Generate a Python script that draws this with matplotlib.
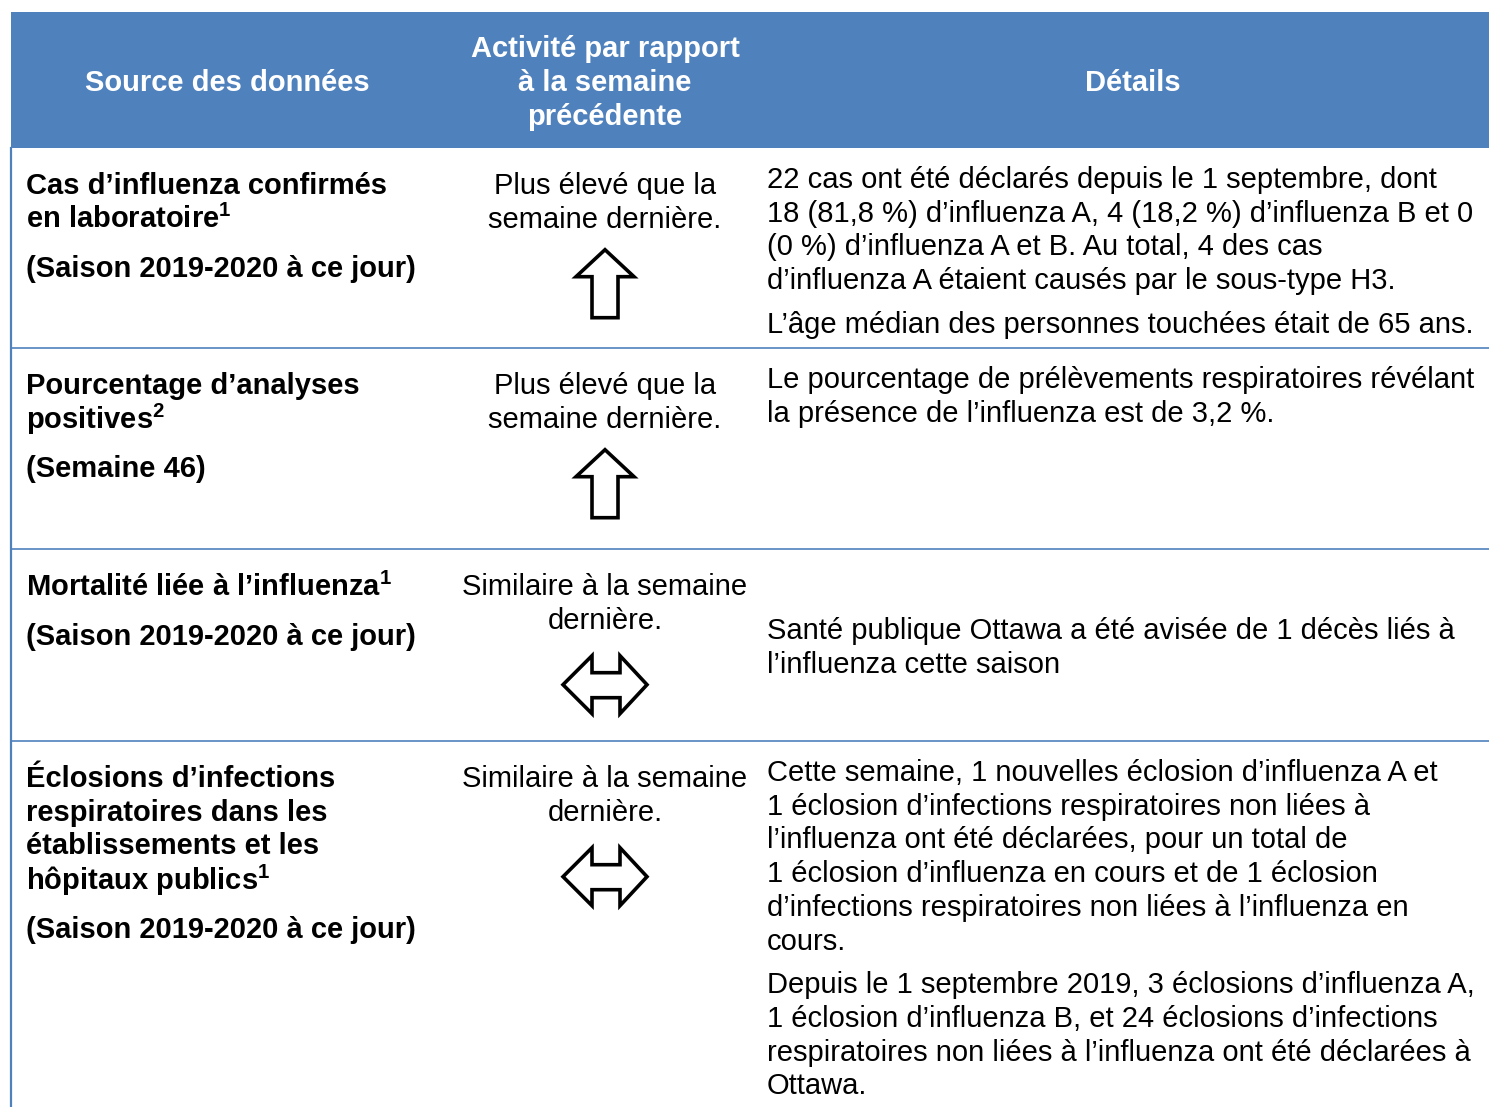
import matplotlib.pyplot as plt
from matplotlib.patches import Rectangle, Polygon

plt.rcParams['font.family'] = ['Liberation Sans', 'DejaVu Sans']
plt.rcParams['mathtext.fontset'] = 'custom'
plt.rcParams['mathtext.rm'] = 'Liberation Sans'
plt.rcParams['mathtext.bf'] = 'Liberation Sans:bold'

# table content
headers = ["Source des données", "Activité par rapport\nà la semaine\nprécédente", "Détails"]

sources = [
    ["Cas d’influenza confirmés\nen laboratoire$^{\\mathbf{1}}$", "(Saison 2019-2020 à ce jour)"],
    ["Pourcentage d’analyses\npositives$^{\\mathbf{2}}$", "(Semaine 46)"],
    ["Mortalité liée à l’influenza$^{\\mathbf{1}}$", "(Saison 2019-2020 à ce jour)"],
    ["Éclosions d’infections\nrespiratoires dans les\nétablissements et les\nhôpitaux publics$^{\\mathbf{1}}$", "(Saison 2019-2020 à ce jour)"],
]

activity = [
    "Plus élevé que la\nsemaine dernière.",
    "Plus élevé que la\nsemaine dernière.",
    "Similaire à la semaine\ndernière.",
    "Similaire à la semaine\ndernière.",
]
trend = ["up", "up", "same", "same"]

details = [
    ["22 cas ont été déclarés depuis le 1 septembre, dont\n18 (81,8 %) d’influenza A, 4 (18,2 %) d’influenza B et 0\n(0 %) d’influenza A et B. Au total, 4 des cas\nd’influenza A étaient causés par le sous-type H3.",
     "L’âge médian des personnes touchées était de 65 ans."],
    ["Le pourcentage de prélèvements respiratoires révélant\nla présence de l’influenza est de 3,2 %."],
    ["Santé publique Ottawa a été avisée de 1 décès liés à\nl’influenza cette saison"],
    ["Cette semaine, 1 nouvelles éclosion d’influenza A et\n1 éclosion d’infections respiratoires non liées à\nl’influenza ont été déclarées, pour un total de\n1 éclosion d’influenza en cours et de 1 éclosion\nd’infections respiratoires non liées à l’influenza en\ncours.",
     "Depuis le 1 septembre 2019, 3 éclosions d’influenza A,\n1 éclosion d’influenza B, et 24 éclosions d’infections\nrespiratoires non liées à l’influenza ont été déclarées à\nOttawa."],
]
details_valign = ["top", "top", "center", "top"]

# layout (pixels)
W, H = 1489, 1107
blue = "#4F81BD"
left, header_top, header_bot = 11, 12, 148
row_edges = [148, 348, 549, 741, 1107]
col1_x, col2_x, col3_x = 26, 605, 767
fs = 21
lh = 33.7
dy = 3  # optical shift of text centres

fig = plt.figure(figsize=(W / 100, H / 100), dpi=100)
ax = fig.add_axes([0, 0, 1, 1])
ax.set_xlim(0, W)
ax.set_ylim(H, 0)
ax.axis("off")

# header band
ax.add_patch(Rectangle((left, header_top), W - left, header_bot - header_top, color=blue, lw=0))
hmid = (header_top + header_bot) / 2 + dy
for x, t in zip([227, col2_x, 1133], headers):
    ax.text(x, hmid, t, ha="center", va="center", color="white", fontsize=fs,
            fontweight="bold", linespacing=1.265)

# borders
ax.plot([left, left], [header_bot, H], color=blue, lw=1.6)
for y in row_edges[1:-1]:
    ax.plot([left, W], [y, y], color=blue, lw=1.2)


def up_arrow(cx, top):
    pts = [(cx, top), (cx + 29, top + 27), (cx + 13, top + 27), (cx + 13, top + 68),
           (cx - 13, top + 68), (cx - 13, top + 27), (cx - 29, top + 27)]
    ax.add_patch(Polygon(pts, closed=True, fc="white", ec="black", lw=2.6, joinstyle="miter"))


def both_arrow(cx, top):
    cy = top + 29
    pts = [(cx - 42, cy), (cx - 13, top), (cx - 13, cy - 12), (cx + 15, cy - 12), (cx + 15, top),
           (cx + 42, cy), (cx + 15, top + 58), (cx + 15, cy + 13), (cx - 13, cy + 13),
           (cx - 13, top + 58)]
    ax.add_patch(Polygon(pts, closed=True, fc="white", ec="black", lw=2.6, joinstyle="miter"))


def paragraphs(x, y0, paras, gap, **kw):
    y = y0
    for p in paras:
        for line in p.split("\n"):
            ax.text(x, y + dy, line, va="center", fontsize=fs, **kw)
            y += lh
        y += gap
    return y


for i in range(len(sources)):
    top, bot = row_edges[i], row_edges[i + 1]
    paragraphs(col1_x, top + 35, sources[i], 16, ha="left", fontweight="bold")
    lines = activity[i].split("\n")
    for k, line in enumerate(lines):
        ax.text(col2_x, top + 35 + k * lh + dy, line, ha="center", va="center", fontsize=fs)
    atop = top + 35 + (len(lines) - 1) * lh + 33
    if trend[i] == "up":
        up_arrow(col2_x, atop)
    else:
        both_arrow(col2_x, atop + 5)
    if details_valign[i] == "top":
        paragraphs(col3_x, top + 29, details[i], 10, ha="left")
    else:
        n = sum(len(p.split("\n")) for p in details[i])
        y0 = (top + bot) / 2 - (n - 1) * lh / 2
        paragraphs(col3_x, y0, details[i], 10, ha="left")

fig.savefig("out.png", dpi=100)
